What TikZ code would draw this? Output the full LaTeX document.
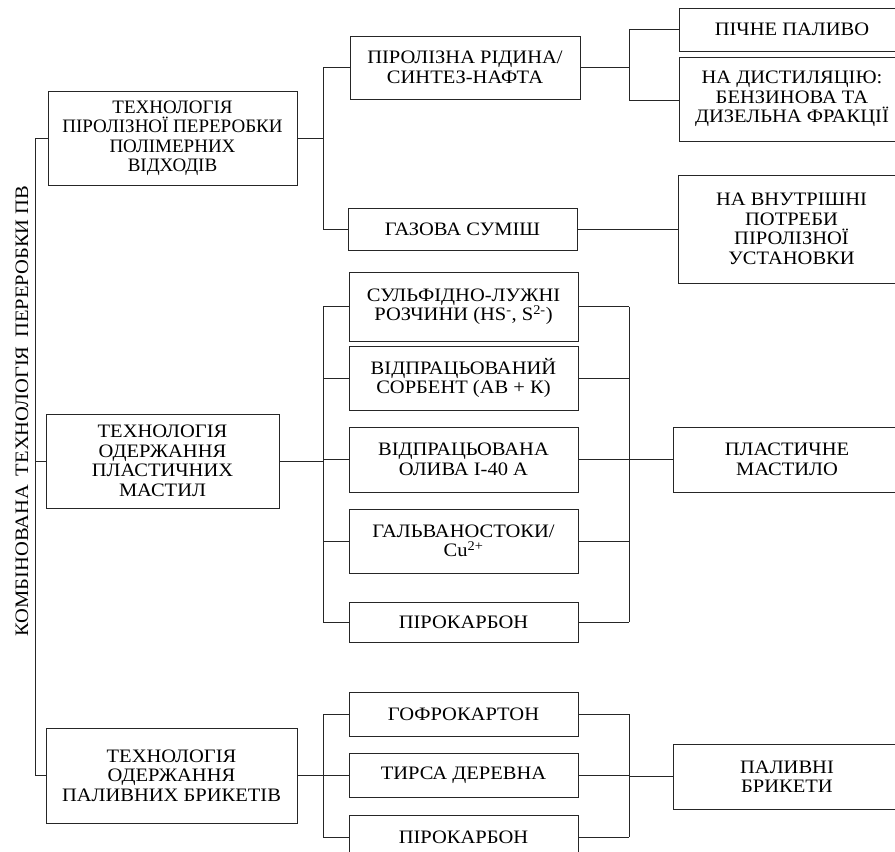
\documentclass[tikz,border=0pt]{standalone}
\usepackage{fontspec}
\setmainfont{Liberation Serif}[FakeStretch=1.08]
\newfontfamily\plainserif{Liberation Serif}
\begin{document}
\begin{tikzpicture}[x=1pt,y=-1pt,
        box/.style={draw=black!85,line width=1pt,align=center,inner sep=0pt,
            font=\fontsize{19}{19.5}\selectfont},
        link/.style={draw=black!85,line width=0.8pt}]
            \useasboundingbox (0,0) rectangle (895,852);
            % left column
            \node[box,minimum width=249,minimum height=94,font=\plainserif\fontsize{19}{19.5}\selectfont] (tpir) at (172.5,138)
                {ТЕХНОЛОГІЯ\\ПІРОЛІЗНОЇ ПЕРЕРОБКИ\\ПОЛІМЕРНИХ\\ВІДХОДІВ};
            \node[box,minimum width=233,minimum height=94] (tmast) at (162.5,461)
                {ТЕХНОЛОГІЯ\\ОДЕРЖАННЯ\\ПЛАСТИЧНИХ\\МАСТИЛ};
            \node[box,minimum width=251,minimum height=95] (tbrik) at (171.5,775.5)
                {ТЕХНОЛОГІЯ\\ОДЕРЖАННЯ\\ПАЛИВНИХ БРИКЕТІВ};
            \node[rotate=90,inner sep=0pt,font=\fontsize{19}{19.5}\selectfont] (title) at (22,411)
                {КОМБІНОВАНА\hspace{9pt}ТЕХНОЛОГІЯ\hspace{9pt}ПЕРЕРОБКИ ПВ};
            % middle column
            \node[box,minimum width=230,minimum height=63] (ridyna) at (465,67.5)
                {ПІРОЛІЗНА РІДИНА/\\СИНТЕЗ-НАФТА};
            \node[box,minimum width=229,minimum height=42] (gaz) at (462.5,229) {ГАЗОВА СУМІШ};
            \node[box,minimum width=229,minimum height=69] (sulf) at (463.5,306.5)
                {СУЛЬФІДНО-ЛУЖНІ\\РОЗЧИНИ (HS\textsuperscript{-}, S\textsuperscript{2-})};
            \node[box,minimum width=229,minimum height=64] (sorb) at (463.5,378)
                {ВІДПРАЦЬОВАНИЙ\\СОРБЕНТ (АВ + К)};
            \node[box,minimum width=229,minimum height=65] (oliva) at (463.5,459.5)
                {ВІДПРАЦЬОВАНА\\ОЛИВА І-40 А};
            \node[box,minimum width=229,minimum height=64] (galv) at (463.5,541)
                {ГАЛЬВАНОСТОКИ/\\Cu\textsuperscript{2+}};
            \node[box,minimum width=229,minimum height=40] (pirk) at (463.5,622) {ПІРОКАРБОН};
            \node[box,minimum width=229,minimum height=44] (gofr) at (463.5,714) {ГОФРОКАРТОН};
            \node[box,minimum width=229,minimum height=44] (tyrsa) at (463.5,775) {ТИРСА ДЕРЕВНА};
            \node[box,minimum width=229,minimum height=44] (pirkb) at (463.5,837) {ПІРОКАРБОН};
            % right column
            \node[box,minimum width=226,minimum height=43] (pichne) at (792,29.5) {ПІЧНЕ ПАЛИВО};
            \node[box,minimum width=226,minimum height=84] (dist) at (792,99)
                {НА ДИСТИЛЯЦІЮ:\\БЕНЗИНОВА ТА\\ДИЗЕЛЬНА ФРАКЦІЇ};
            \node[box,minimum width=227,minimum height=108] (potreby) at (791.5,229)
                {НА ВНУТРІШНІ\\ПОТРЕБИ\\ПІРОЛІЗНОЇ\\УСТАНОВКИ};
            \node[box,minimum width=228,minimum height=65] (mastylo) at (787,459.5)
                {ПЛАСТИЧНЕ\\МАСТИЛО};
            \node[box,minimum width=228,minimum height=65] (bryk) at (787,776.5)
                {ПАЛИВНІ\\БРИКЕТИ};
            % buses
            \coordinate (spine) at (35,0);
            \coordinate (busl) at (323,0);
            \coordinate (busr) at (629,0);
            \draw[link] (tpir.west) -- (tpir.west -| spine) -- (tbrik.west -| spine) -- (tbrik.west);
            \draw[link] (tmast.west) -- (tmast.west -| spine);
            \draw[link] (tpir.east) -- (tpir.east -| busl);
            \draw[link] (ridyna.west) -- (ridyna.west -| busl) -- (gaz.west -| busl) -- (gaz.west);
            \draw[link] (ridyna.east) -- (ridyna.east -| busr);
            \draw[link] (pichne.west) -- (pichne.west -| busr) -- ([yshift=-1]dist.west -| busr) -- ([yshift=-1]dist.west);
            \draw[link] (gaz.east) -- (potreby.west);
            \draw[link] (tmast.east) -- (tmast.east -| busl);
            \draw[link] (sulf.west -| busl) -- (pirk.west -| busl);
            \draw[link] (sulf.east -| busr) -- (pirk.east -| busr);
            \foreach \n in {sulf,sorb,oliva,galv,pirk}{
                \draw[link] (\n.west) -- (\n.west -| busl);
                \draw[link] (\n.east) -- (\n.east -| busr);
            }
            \draw[link] (mastylo.west -| busr) -- (mastylo.west);
            \draw[link] (tbrik.east) -- (tbrik.east -| busl);
            \draw[link] (gofr.west -| busl) -- (pirkb.west -| busl);
            \draw[link] (gofr.east -| busr) -- (pirkb.east -| busr);
            \foreach \n in {gofr,tyrsa,pirkb}{
                \draw[link] (\n.west) -- (\n.west -| busl);
                \draw[link] (\n.east) -- (\n.east -| busr);
            }
            \draw[link] (bryk.west -| busr) -- (bryk.west);
        \end{tikzpicture}
\end{document}
